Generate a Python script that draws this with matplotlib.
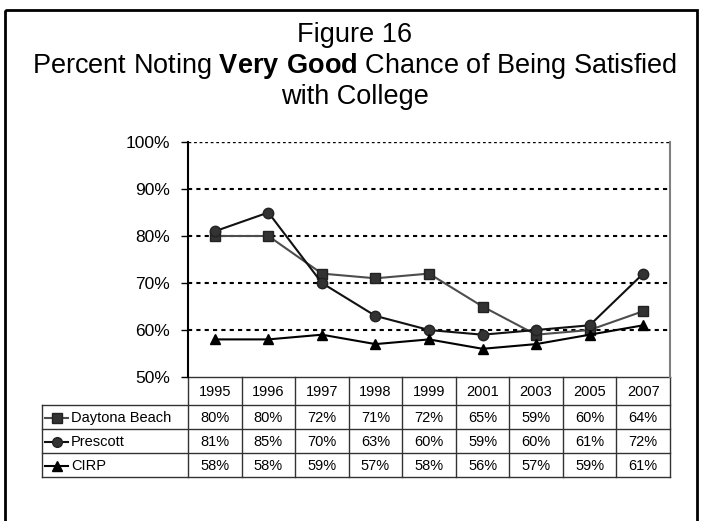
import matplotlib
matplotlib.use('Agg')
import matplotlib.pyplot as plt
from matplotlib.patches import Rectangle
from matplotlib.lines import Line2D

years = ['1995', '1996', '1997', '1998', '1999', '2001', '2003', '2005', '2007']
daytona = [80, 80, 72, 71, 72, 65, 59, 60, 64]
prescott = [81, 85, 70, 63, 60, 59, 60, 61, 72]
cirp = [58, 58, 59, 57, 58, 56, 57, 59, 61]
series_names = ['Daytona Beach', 'Prescott', 'CIRP']
y_ticks = [50, 60, 70, 80, 90, 100]

plt.rcParams['font.family'] = ['Liberation Sans', 'DejaVu Sans']
plt.rcParams['mathtext.fontset'] = 'custom'
plt.rcParams['mathtext.rm'] = 'Liberation Sans'
plt.rcParams['mathtext.bf'] = 'Liberation Sans:bold'

W, H = 701, 521
fig = plt.figure(figsize=(W / 100, H / 100), dpi=100)


def box(x0, y0, x1, y1):
    # pixel box (top-left origin) -> figure fraction rect
    return [x0 / W, 1 - y1 / H, (x1 - x0) / W, (y1 - y0) / H]


# overlay axes in pixel coords for the frame, title and table
bg = fig.add_axes([0, 0, 1, 1])
bg.set_xlim(0, W)
bg.set_ylim(H, 0)
bg.axis('off')
bg.add_patch(Rectangle((5, 10), 692, 530, fill=False, lw=2, ec='black'))

bg.text(355, 42, 'Figure 16', ha='center', va='baseline', fontsize=19.5)
bg.text(355, 73, r'Percent Noting $\bf{Very\ Good}$ Chance of Being Satisfied',
        ha='center', va='baseline', fontsize=19.5)
bg.text(355, 104, 'with College', ha='center', va='baseline', fontsize=19.5)

# plot area
PL, PR, PT, PB = 188, 670, 142, 377
ax = fig.add_axes(box(PL, PT, PR, PB), zorder=2)
ax.patch.set_alpha(0)
x = list(range(len(years)))
styles = [
    dict(color='#4d4d4d', marker='s', ms=7.5, mfc='#333333', mec='#222222'),
    dict(color='#111111', marker='o', ms=7.5, mfc='#333333', mec='#222222'),
    dict(color='black', marker='^', ms=7.5, mfc='black', mec='black'),
]
for vals, st in zip([daytona, prescott, cirp], styles):
    ax.plot(x, vals, lw=1.5, clip_on=False, zorder=3, **st)

for v in y_ticks[1:]:
    ax.axhline(v, color='black', lw=1.5 if v < 100 else 1.0, ls=(0, (2, 2)), zorder=1)
ax.set_xlim(-0.5, len(years) - 0.5)
ax.set_ylim(50, 100)
ax.set_yticks(y_ticks)
ax.set_yticklabels([f'{v}%' for v in y_ticks], fontsize=12.5)
ax.tick_params(axis='y', length=5, width=1, pad=8)
ax.set_xticks([])
ax.spines['top'].set_visible(False)
ax.spines['bottom'].set_visible(False)
ax.spines['left'].set_linewidth(1.5)
ax.spines['right'].set_color('#808080')
ax.spines['right'].set_linewidth(1.5)

# data table
LX = 42
col_w = (PR - PL) / len(years)
row_edges = [PB, 405, 429, 453, 477]
tc = '#333333'
# horizontal lines
bg.plot([PL, PR], [row_edges[0]] * 2, color=tc, lw=1)
for yy in row_edges[1:]:
    bg.plot([LX, PR], [yy] * 2, color=tc, lw=1)
# vertical lines
for i in range(len(years) + 1):
    xx = PL + i * col_w
    bg.plot([xx] * 2, [row_edges[0], row_edges[-1]], color=tc, lw=1)
bg.plot([LX] * 2, [row_edges[1], row_edges[-1]], color=tc, lw=1)

for i, yr in enumerate(years):
    bg.text(PL + (i + 0.5) * col_w, (row_edges[0] + row_edges[1]) / 2 + 1, yr,
            ha='center', va='center', fontsize=10.5)
for r, (name, vals, st) in enumerate(zip(series_names, [daytona, prescott, cirp], styles)):
    yc = (row_edges[r + 1] + row_edges[r + 2]) / 2 + 1
    bg.add_line(Line2D([45, 68], [yc, yc], lw=1.5, color=st['color']))
    bg.plot([57], [yc], marker=st['marker'], ms=7, mfc=st['mfc'], mec=st['mec'], ls='none')
    bg.text(71, yc, name, ha='left', va='center', fontsize=10.5)
    for i, v in enumerate(vals):
        bg.text(PL + (i + 0.5) * col_w, yc, f'{v}%', ha='center', va='center', fontsize=10.5)

fig.savefig('out.png', dpi=100)
